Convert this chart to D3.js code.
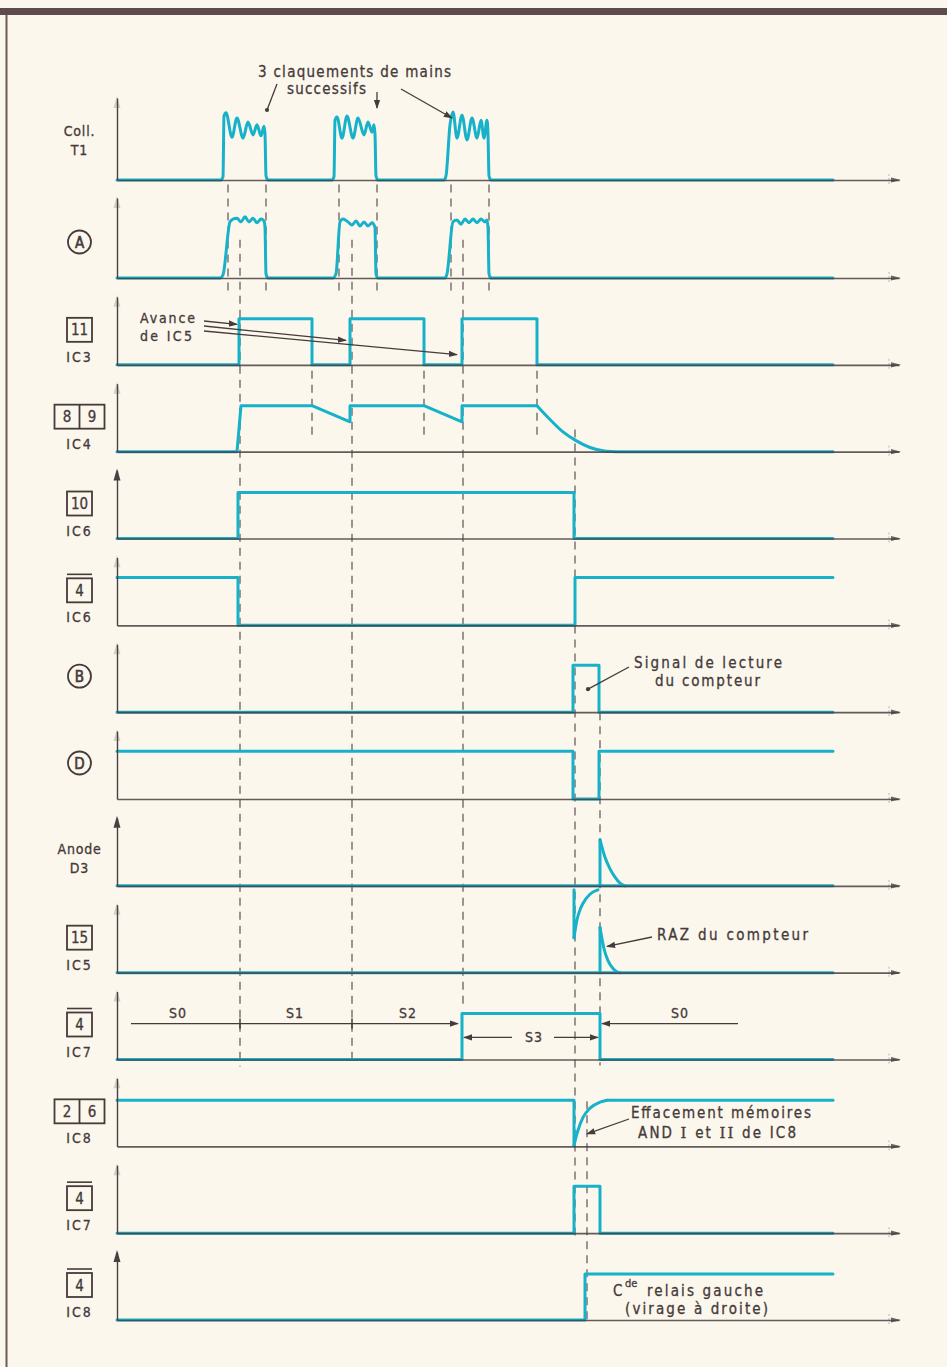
<!DOCTYPE html>
<html>
<head>
<meta charset="utf-8">
<script src="https://cdn.jsdelivr.net/npm/d3@7"></script>
<style>
  html, body { margin: 0; padding: 0; background: #fbf7ec; }
  svg { display: block; }
  text { font-family: 'DejaVu Sans Condensed', 'Liberation Sans Narrow', 'DejaVu Sans', sans-serif; fill: #463a3b; stroke: #463a3b; stroke-width: 0.3px; }
</style>
</head>
<body>
<svg id="chart" width="947" height="1367"></svg>
<script>
// ---- time base: one unit per step along the common time axis ----
const tEnd = 716;   // traces stop here
const tAxis = 782;  // tip of each time axis

// ---- row labels, top to bottom ----
const rowLabels = [
  { lines: ['Coll.', 'T1'] },
  { circle: 'A' },
  { pins: ['11'], chip: 'IC3' },
  { pins: ['8', '9'], chip: 'IC4' },
  { pins: ['10'], chip: 'IC6' },
  { pins: ['4'], bar: true, chip: 'IC6' },
  { circle: 'B' },
  { circle: 'D' },
  { lines: ['Anode', 'D3'] },
  { pins: ['15'], chip: 'IC5' },
  { pins: ['4'], bar: true, chip: 'IC7' },
  { pins: ['2', '6'], chip: 'IC8' },
  { pins: ['4'], bar: true, chip: 'IC7' },
  { pins: ['4'], bar: true, chip: 'IC8' }
];
const solidArrowRows = [4, 8, 13];

// ---- waveforms: [time, level] ----
const collT1 = [[0,0],[104,0],[106,0.07],[107,1.39],[109,1.46],[115,0.93],[120,1.35],[126,0.91],[131,1.26],[136,0.98],[140,1.2],[144,0.96],[147,1.17],[148,1.0],[149,0.09],[151,0],
  [215,0],[217,0.07],[218,1.3],[220,1.37],[225,0.91],[230,1.39],[236,0.91],[241,1.35],[247,0.98],[251,1.26],[255,1.04],[257,1.2],[258,1.0],[259,0.09],[261,0],
  [327,0],[329,0.09],[333,1.2],[336,1.48],[340,0.91],[345,1.41],[350,0.87],[355,1.35],[360,0.91],[364,1.3],[367,0.91],[370,1.3],[371,1.0],[372,0.09],[374,0],[716,0]];

const nodeA = [[0,0],[103,0],[106,0.07],[113,1.22],[116,1.28],[120,1.3],[124,1.22],[128,1.33],[132,1.22],[136,1.3],[140,1.2],[144,1.28],[147,1.24],[148,1.1],[149,0.09],[151,0],
  [216,0],[219,0.09],[223,1.22],[226,1.28],[231,1.22],[235,1.15],[239,1.24],[243,1.13],[247,1.22],[251,1.13],[255,1.2],[258,1.1],[259,0.09],[261,0],
  [328,0],[330,0.09],[336,1.22],[340,1.26],[344,1.17],[348,1.28],[352,1.2],[356,1.28],[360,1.2],[364,1.28],[368,1.22],[370,1.26],[371,1.1],[372,0.09],[374,0],[716,0]];

const ic3Pin11 = [[0,0],[122,0],[122,1],[195,1],[195,0],[233,0],[233,1],[307,1],[307,0],[345,0],[345,1],[420,1],[420,0],[716,0]];

const ic4Steps = [[0,0],[120,0],[124,1],[195,1],[233,0.65],[233,1],[307,1],[345,0.65],[345,1],[420,1]];
const ic4Decay = [[420,1],[433,0.7],[446,0.43],[459,0.24],[473,0.09],[489,0.01],[500,0],[716,0]];

const ic6Pin10 = [[0,0],[121,0],[121,1],[457,1],[457,0],[716,0]];
const ic6Pin4 = [[0,1.04],[121,1.04],[121,0],[458,0],[458,1.04],[716,1.04]];

const nodeB = [[0,0],[456,0],[456,1.02],[482,1.02],[482,0],[716,0]];
const nodeD = [[0,1.04],[456,1.04],[456,0],[482,0],[482,1.04],[716,1.04]];

const anodeBase = [[0,0],[716,0]];
const anodeEdge = [[483,0],[483,1]];
const anodeDecay = [[483,1],[488,0.62],[493,0.37],[498,0.19],[503,0.06],[508,0]];

const ic5Base = [[0,0],[716,0]];
const ic5NegEdge = [[457,1.8],[457,0.76]];
const ic5NegCurve = [[457,0.76],[460,1.15],[464,1.42],[469,1.61],[475,1.74],[481,1.8]];
const ic5PosEdge = [[483,0],[483,0.98]];
const ic5PosDecay = [[483,0.98],[487,0.52],[491,0.26],[496,0.09],[500,0.02],[503,0]];

const ic7Pin4 = [[0,0],[345,0],[345,1],[483,1],[483,0],[716,0]];

const ic8Pin26 = [[0,1],[457,1],[457,0.02]];
const ic8Recover = [[457,0.02],[459,0.2],[461,0.35],[466,0.63],[473,0.83],[483,0.96],[490,1.0]];
const ic8Pin26Tail = [[490,1.0],[716,1.0]];

const ic7Pin4Out = [[0,0],[457,0],[457,1.02],[483,1.02],[483,0],[716,0]];
const ic8Pin4Out = [[0,0],[468,0],[468,1],[716,1]];

// dashed time markers: [time, fromRow, fromLevel, toRow, toLevel]
const guides = [
  [111,0,-0.1,1,-0.33],[149,0,-0.1,1,-0.33],[222,0,-0.1,1,-0.33],
  [260,0,-0.1,1,-0.33],[334,0,-0.1,1,-0.33],[372,0,-0.1,1,-0.33],
  [123,1,0.83,10,-0.15],[235,1,0.83,10,-0.07],[346,1,0.83,10,1.1],
  [195,2,-0.13,3,0.37],[307,2,-0.13,3,0.37],[420,2,-0.13,3,0.37],
  [458,3,0.48,12,-0.15],[483,6,0,10,-0.13],[470,11,0.98,13,-0.05]
];

// counter states along the IC7 row
const stateNames = ['S0', 'S1', 'S2', 'S3', 'S0'];
const stateCentres = [61, 178, 291, 417, 563];
const stateBounds = [123, 235];

// ---- scales ----
const svg = d3.select('#chart');
const ink = '#463a3b', teal = '#17b1ca', axisInk = '#4a3f41';

const x = d3.scaleLinear().domain([0, tAxis]).range([117, 899]);
const rowPos = d3.scaleLinear().domain([1, 13]).range([278, 1320]);
const baseY = i => i === 0 ? 180 : rowPos(i);
const levelY = i => d3.scaleLinear().domain([0, 1]).range([baseY(i), baseY(i) - 46]);
const P = (t, r, l) => [x(t), levelY(r)(l)];

// ---- page frame ----
svg.append('rect').attr('x', 0).attr('y', 8).attr('width', 947).attr('height', 7).attr('fill', '#5f4b4d');
svg.append('line').attr('x1', 6.5).attr('x2', 6.5).attr('y1', 15).attr('y2', 1367)
  .attr('stroke', '#6d5a5a').attr('stroke-width', 2);

// ---- markers ----
const defs = svg.append('defs');
defs.append('marker').attr('id', 'head').attr('viewBox', '0 0 10 10').attr('refX', 9).attr('refY', 5)
  .attr('markerWidth', 7).attr('markerHeight', 7).attr('orient', 'auto-start-reverse')
  .append('path').attr('d', 'M0,1.5L10,5L0,8.5Z').attr('fill', ink);
defs.append('marker').attr('id', 'dot').attr('viewBox', '0 0 10 10').attr('refX', 5).attr('refY', 5)
  .attr('markerWidth', 4).attr('markerHeight', 4)
  .append('circle').attr('cx', 5).attr('cy', 5).attr('r', 4).attr('fill', ink);

// ---- dashed time markers ----
const gGuides = svg.append('g');
guides.forEach(([t, r1, l1, r2, l2]) => {
  gGuides.append('line')
    .attr('x1', x(t)).attr('x2', x(t))
    .attr('y1', levelY(r1)(l1)).attr('y2', levelY(r2)(l2))
    .attr('stroke', '#5d5253').attr('stroke-width', 1.2)
    .attr('stroke-dasharray', '8,6');
});

// ---- waveforms ----
const traces = [
  { row: 0, pts: collT1, curve: d3.curveMonotoneX },
  { row: 1, pts: nodeA, curve: d3.curveMonotoneX },
  { row: 2, pts: ic3Pin11 },
  { row: 3, pts: ic4Steps },
  { row: 3, pts: ic4Decay, curve: d3.curveMonotoneX },
  { row: 4, pts: ic6Pin10 },
  { row: 5, pts: ic6Pin4 },
  { row: 6, pts: nodeB },
  { row: 7, pts: nodeD },
  { row: 8, pts: anodeBase },
  { row: 8, pts: anodeEdge },
  { row: 8, pts: anodeDecay, curve: d3.curveMonotoneX },
  { row: 9, pts: ic5Base },
  { row: 9, pts: ic5NegEdge },
  { row: 9, pts: ic5NegCurve, curve: d3.curveMonotoneX },
  { row: 9, pts: ic5PosEdge },
  { row: 9, pts: ic5PosDecay, curve: d3.curveMonotoneX },
  { row: 10, pts: ic7Pin4 },
  { row: 11, pts: ic8Pin26 },
  { row: 11, pts: ic8Recover, curve: d3.curveMonotoneX },
  { row: 11, pts: ic8Pin26Tail },
  { row: 12, pts: ic7Pin4Out },
  { row: 13, pts: ic8Pin4Out }
];
const gTraces = svg.append('g');
traces.forEach(tr => {
  const y = levelY(tr.row);
  const line = d3.line().x(d => x(d[0])).y(d => y(d[1])).curve(tr.curve || d3.curveLinear);
  gTraces.append('path').attr('d', line(tr.pts))
    .attr('fill', 'none').attr('stroke', teal).attr('stroke-width', 3)
    .attr('stroke-linejoin', 'round').attr('stroke-linecap', 'round');
});

// ---- axes ----
const gAxes = svg.append('g');
rowLabels.forEach((lab, i) => {
  const b = baseY(i);
  const h = i === 0 ? 82 : (i === 1 ? 80 : 68);
  const xa = gAxes.append('g').attr('transform', `translate(0,${b})`)
    .call(d3.axisBottom(x).tickValues([]).tickSizeOuter(0));
  xa.select('.domain').attr('stroke', axisInk).attr('stroke-width', 1.6).attr('stroke-opacity', 0.85);

  const yScale = d3.scaleLinear().domain([0, 1]).range([b, b - h]);
  const ya = gAxes.append('g').attr('transform', `translate(${x(0)},0)`)
    .call(d3.axisLeft(yScale).tickValues([]).tickSizeOuter(0));
  ya.select('.domain').attr('stroke', axisInk).attr('stroke-width', 1.4);

  const top = b - h;
  const solid = solidArrowRows.includes(i);
  gAxes.append('path')
    .attr('d', `M${x(0)},${top - 2}L${x(0) - 3.5},${top + 10}L${x(0) + 3.5},${top + 10}Z`)
    .attr('fill', axisInk).attr('opacity', solid ? 1 : 0.22);
  // time-axis arrow tip
  const xe = x(tAxis);
  gAxes.append('path').attr('d', `M${xe + 2},${b}L${xe - 8},${b - 2.6}L${xe - 8},${b + 2.6}Z`)
    .attr('fill', axisInk).attr('opacity', 0.8);
  gAxes.append('line').attr('x1', xe - 10).attr('x2', xe - 10).attr('y1', b - 6).attr('y2', b + 6)
    .attr('stroke', axisInk).attr('stroke-width', 1).attr('stroke-dasharray', '2,2').attr('opacity', 0.35);
});

// ---- row labels ----
const gLab = svg.append('g');
rowLabels.forEach((lab, i) => {
  const b = baseY(i);
  const cx = 79.5;
  if (lab.lines) {
    const y0 = i === 0 ? b - 49 : b - 37;
    lab.lines.forEach((s, k) => {
      gLab.append('text').attr('x', cx).attr('y', y0 + k * 19 + 5)
        .attr('text-anchor', 'middle').attr('font-size', 14).attr('letter-spacing', 0.8).text(s);
    });
  }
  if (lab.circle) {
    const cy = b - 36;
    gLab.append('circle').attr('cx', cx).attr('cy', cy).attr('r', 11.5)
      .attr('fill', 'none').attr('stroke', ink).attr('stroke-width', 1.8);
    gLab.append('text').attr('x', cx).attr('y', cy + 5.5).attr('text-anchor', 'middle')
      .attr('font-size', 15).style('stroke-width', '0.6px').text(lab.circle);
  }
  if (lab.pins) {
    const bw = 25, bh = 24;
    const w = bw * lab.pins.length;
    const x0 = cx - w / 2, y0 = b - 47;
    gLab.append('rect').attr('x', x0).attr('y', y0).attr('width', w).attr('height', bh)
      .attr('fill', 'none').attr('stroke', ink).attr('stroke-width', 1.8);
    lab.pins.forEach((p, k) => {
      if (k > 0) {
        gLab.append('line').attr('x1', x0 + bw * k).attr('x2', x0 + bw * k)
          .attr('y1', y0).attr('y2', y0 + bh).attr('stroke', ink).attr('stroke-width', 1.8);
      }
      gLab.append('text').attr('x', x0 + bw * k + bw / 2).attr('y', y0 + bh / 2 + 5.5)
        .attr('text-anchor', 'middle').attr('font-size', 15).text(p);
    });
    if (lab.bar) {
      gLab.append('line').attr('x1', x0).attr('x2', x0 + w).attr('y1', y0 - 4).attr('y2', y0 - 4)
        .attr('stroke', ink).attr('stroke-width', 1.6);
    }
    gLab.append('text').attr('x', cx).attr('y', b - 8 + 5).attr('text-anchor', 'middle')
      .attr('font-size', 14).attr('letter-spacing', 2).text(lab.chip);
  }
});

// ---- annotations ----
const gAnn = svg.append('g');
function label(s, x0, yb, len, size = 15) {
  const t = gAnn.append('text').attr('x', x0).attr('y', yb).attr('font-size', size).text(s);
  if (len) t.attr('textLength', len).attr('lengthAdjust', 'spacing');
  return t;
}
function leader(a, b, end) {
  const l = gAnn.append('line').attr('x1', a[0]).attr('y1', a[1]).attr('x2', b[0]).attr('y2', b[1])
    .attr('stroke', ink).attr('stroke-width', 1.3);
  if (end) l.attr('marker-end', `url(#${end})`);
  return l;
}

label('3 claquements de mains', 258, 77, 193);
label('successifs', 287, 94, 79);
leader([277, 84], [267, 110], 'dot');
leader([x(260), 92], [x(260), 108], 'head');
leader([401, 89], [452, 118], 'head');

label('Avance', 140, 323, 55, 14);
label('de IC5', 140, 341, 52, 14);
leader([204, 321], P(120, 2, 0.88), 'head');
leader([204, 326], P(229, 2, 0.53), 'head');
leader([204, 331], P(340, 2, 0.22), 'head');

label('Signal de lecture', 634, 668, 148);
label('du compteur', 655, 686, 105);
leader([629, 667], P(471, 6, 0.5), 'dot');

label('RAZ du compteur', 657, 940, 151);
leader([652, 937], P(490, 9, 0.57), 'head');

label('Effacement mémoires', 631, 1118, 180);
const and = label('', 638, 1138, 158);
and.append('tspan').text('AND ');
and.append('tspan').attr('font-family', 'DejaVu Serif, serif').text('I');
and.append('tspan').text(' et ');
and.append('tspan').attr('font-family', 'DejaVu Serif, serif').text('II');
and.append('tspan').text(' de IC8');
leader([629, 1119], P(470, 11, 0.27), 'head');

label('C', 613, 1296, null, 15);
label('de', 625, 1287, null, 11);
label('relais gauche', 647, 1296, 116);
label('(virage à droite)', 625, 1314, 143);

// counter state line on the IC7 row
const sy = levelY(10)(0.78);
leader([x(14), sy], [x(341), sy], 'head');
stateBounds.forEach(t => {
  gAnn.append('line').attr('x1', x(t)).attr('x2', x(t)).attr('y1', sy - 5).attr('y2', sy + 5)
    .attr('stroke', ink).attr('stroke-width', 1.5);
});
const s3y = levelY(10)(0.48);
leader([x(395), s3y], [x(347), s3y], 'head');
leader([x(437), s3y], [x(481), s3y], 'head');
leader([x(621), sy], [x(485), sy], 'head');
stateNames.forEach((s, k) => {
  const yy = k === 3 ? s3y + 5 : levelY(10)(1.02) + 5;
  gAnn.append('text').attr('x', x(stateCentres[k])).attr('y', yy).attr('text-anchor', 'middle')
    .attr('font-size', 14).attr('letter-spacing', 1).text(s);
});
</script>
</body>
</html>
